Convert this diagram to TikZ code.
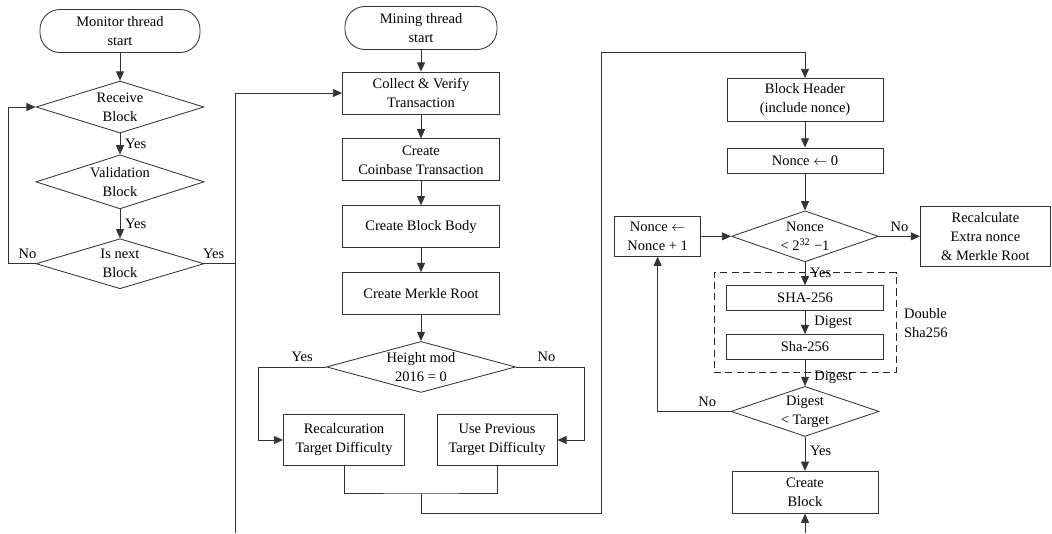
\documentclass[tikz,border=0pt]{standalone}
\usepackage{fontspec}
\setmainfont{Liberation Serif}
\usetikzlibrary{arrows.meta,shapes.geometric,positioning,fit}

\begin{document}
\begin{tikzpicture}[
	x=0.025cm,y=-0.025cm,
	every node/.style={font=\fontsize{10.3}{13.5}\selectfont,align=center},
	avvio/.style={draw=black!80,line width=0.6pt,rectangle,rounded corners=0.5cm,minimum width=4cm,minimum height=1.075cm},
	passo/.style={draw=black!80,line width=0.6pt,rectangle,minimum width=3.925cm,minimum height=1.05cm,inner sep=2pt},
	scelta/.style={draw=black!80,line width=0.6pt,diamond,aspect=3.2,inner sep=-1pt,minimum width=4.2cm,minimum height=1.3cm},
	freccia/.style={-{Triangle[length=2.3mm,width=2mm]},line width=0.6pt,draw=black!80},
	linea/.style={line width=0.6pt,draw=black!80}
	]
	\useasboundingbox (0,0) rectangle (1052,533);
	
	% Thread di monitoraggio
	\node[avvio] (mon) at (120,31) {Monitor thread\\start};
	\node[scelta] (recv) at (120,107) {Receive\\Block};
	\node[scelta,below=0.525cm of recv,minimum height=1.35cm] (valid) {Validation\\Block};
	\node[scelta,below=0.725cm of valid,minimum height=1.25cm] (next) {Is next\\Block};
	
	% Thread di mining
	\node[avvio,minimum width=3.8cm] (mine) at (421,28) {Mining thread\\start};
	\node[passo] (collect) at (421,93) {Collect \& Verify\\Transaction};
	\node[passo,below=0.6cm of collect] (coin) {Create\\Coinbase Transaction};
	\node[passo,below=0.6cm of coin] (body) {Create Block Body};
	\node[passo,below=0.6cm of body] (merkle) {Create Merkle Root};
	\node[scelta,below=0.65cm of merkle,aspect=3.7,minimum width=4.725cm,minimum height=1.275cm] (hmod) {Height mod\\2016 = 0};
	\node[passo,minimum width=3.025cm,minimum height=1.275cm] (recalc) at (344,440) {Recalcuration\\Target Difficulty};
	\node[passo,minimum width=3cm,minimum height=1.275cm] (prev) at (497,440) {Use Previous\\Target Difficulty};
	
	% Ricerca del nonce
	\node[passo,minimum width=3.9cm,minimum height=1.075cm] (header) at (805,100) {Block Header\\(include nonce)};
	\node[passo,below=0.64cm of header,minimum width=3.9cm,minimum height=0.625cm] (nz) {Nonce $\leftarrow$ 0};
	\node[scelta,below=0.925cm of nz,aspect=2.88,minimum width=3.675cm,minimum height=1.275cm] (nd) {Nonce\\< 2\textsuperscript{32} −1};
	\node[passo,left=0.75cm of nd,minimum width=2.15cm,minimum height=1cm] (inc) {Nonce $\leftarrow$\\Nonce + 1};
	\node[passo,right=1.025cm of nd,minimum width=3.25cm,minimum height=1.5cm] (recx) {Recalculate\\Extra nonce\\\& Merkle Root};
	\node[passo,below=0.575cm of nd,minimum height=0.625cm] (sha1) {SHA-256};
	\node[passo,below=0.575cm of sha1,minimum height=0.625cm] (sha2) {Sha-256};
	\node[scelta,below=0.65cm of sha2,aspect=2.96,minimum width=3.7cm,minimum height=1.25cm] (dd) {Digest\\< Target};
	\node[passo,below=0.85cm of dd,minimum width=3.65cm] (cblk) {Create\\Block};
	\node[draw=black!85,line width=0.6pt,dash pattern=on 5pt off 3pt,fit=(sha1)(sha2),inner xsep=0.3cm,inner ysep=0.31cm] (dbl) {};
	\node[right=2pt of dbl.east,align=left] (dlab) {Double\\Sha256};
	
	% Connessioni monitor
	\draw[freccia] (mon) -- (recv);
	\draw[freccia] (recv) -- node[right]{Yes} (valid);
	\draw[freccia] (valid) -- node[right]{Yes} (next);
	\draw[freccia] (next.west) -- node[above,pos=0.3]{No} ++(-27,0) |- (recv.west);
	\coordinate (giu) at (235,533);
	\draw[linea] (next.east) -- node[above,pos=0.3]{Yes} (next.east -| giu);
	\draw[freccia] (giu) |- (collect.west);
	
	% Connessioni mining
	\draw[freccia] (mine) -- (collect);
	\draw[freccia] (collect) -- (coin);
	\draw[freccia] (coin) -- (body);
	\draw[freccia] (body) -- (merkle);
	\draw[freccia] (merkle) -- (hmod);
	\draw[freccia] (hmod.west) -- node[above,pos=0.35]{Yes} ++(-68,0) |- (recalc.west);
	\draw[freccia] (hmod.east) -- node[above,pos=0.45]{No} ++(68,0) |- (prev.east);
	\coordinate (unione) at (421,493);
	\draw[linea] (recalc.south) |- (unione) -| (prev.south);
	\coordinate (ritorno) at (601,52);
	\draw[freccia] (unione) -- ++(0,20) -| (ritorno) -| (header.north);
	
	% Connessioni nonce
	\draw[freccia] (header) -- (nz);
	\draw[freccia] (nz) -- (nd);
	\draw[freccia] (inc) -- (nd);
	\draw[freccia] (nd) -- node[above]{No} (recx);
	\draw[freccia] (nd) -- node[right,pos=0.45]{Yes} (sha1);
	\draw[freccia] (sha1) -- node[right=3pt]{Digest} (sha2);
	\draw[freccia] (sha2) -- node[right=3pt,pos=0.68]{Digest} (dd);
	\draw[freccia] (dd.west) -- node[above,pos=0.32]{No} (dd.west -| inc.south) -- (inc.south);
	\draw[freccia] (dd) -- node[right,pos=0.4]{Yes} (cblk);
	\coordinate (fondo) at (805,533);
	\draw[freccia] (fondo) -- (cblk);
	
\end{tikzpicture}
\end{document}
